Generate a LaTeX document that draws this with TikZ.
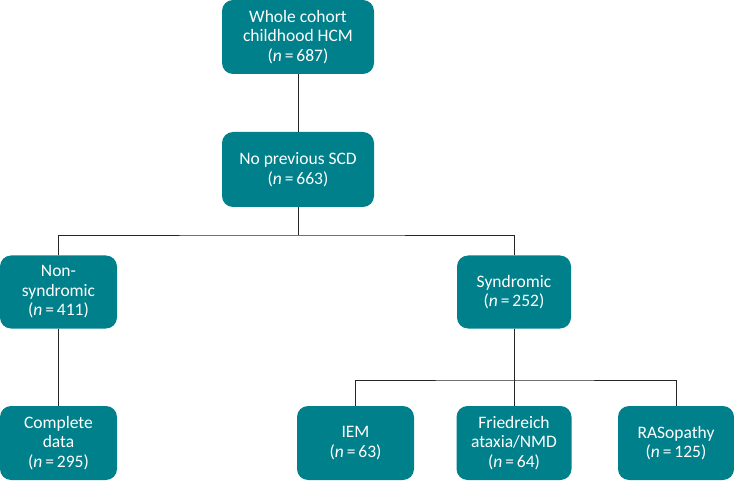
\documentclass[tikz,border=0pt]{standalone}
\usepackage{fontspec}
\setmainfont{Carlito}
\usepackage{tikz}
\definecolor{cohortTeal}{RGB}{0, 128, 138}
\usetikzlibrary{positioning}

\begin{document}
\begin{tikzpicture}[x=1pt, y=-1pt,
    groupbox/.style={fill=cohortTeal, text=white, rounded corners=11pt, align=center,
        inner sep=0pt, font=\fontsize{17.5}{19.5}\selectfont},
    link/.style={draw=black!85, line width=0.8pt}]
    \useasboundingbox (0,0) rectangle (734,481);
    % top of the tree
    \node[groupbox, minimum width=152pt, minimum height=74pt] (whole) at (298,37)
        {Whole cohort\\childhood HCM\\(\textit{n}\,=\,687)};
    \node[groupbox, minimum width=152pt, minimum height=75pt] (noscd) at (298,169.5)
        {No previous SCD\\(\textit{n}\,=\,663)};
    % second level
    \node[groupbox, minimum width=117pt, minimum height=73pt] (nonsyn) at (58.5,292)
        {Non-\\syndromic\\(\textit{n}\,=\,411)};
    \node[groupbox, minimum width=114pt, minimum height=73pt] (synd) at (514,292)
        {Syndromic\\(\textit{n}\,=\,252)};
    % bottom row
    \node[groupbox, minimum width=117pt, minimum height=74pt] (complete) at (58.5,443)
        {Complete\\data\\(\textit{n}\,=\,295)};
    \node[groupbox, minimum width=117pt, minimum height=74pt] (iem) at (355.5,443)
        {IEM\\(\textit{n}\,=\,63)};
    \node[groupbox, minimum width=115pt, minimum height=74pt] (fried) at (514,443)
        {Friedreich\\ataxia/NMD\\(\textit{n}\,=\,64)};
    \node[groupbox, minimum width=116pt, minimum height=74pt] (ras) at (676,443)
        {RASopathy\\(\textit{n}\,=\,125)};
    % connectors
    \coordinate (splitA) at (298,235);
    \coordinate (splitB) at (514,380);
    \draw[link] (whole.south) -- (noscd.north);
    \draw[link] (noscd.south) -- (splitA);
    \draw[link] (nonsyn.north) |- (splitA) -| (synd.north);
    \draw[link] (nonsyn.south) -- (complete.north);
    \draw[link] (synd.south) -- (splitB);
    \draw[link] (iem.north) |- (splitB) -| (ras.north);
    \draw[link] (splitB) -- (fried.north);
\end{tikzpicture}
\end{document}
